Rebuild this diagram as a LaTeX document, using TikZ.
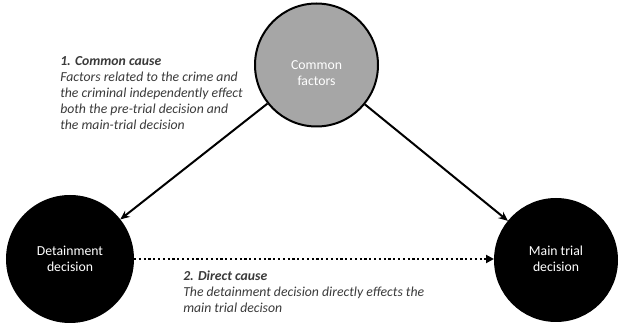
\documentclass[tikz,border=0pt]{standalone}
\usepackage{fontspec}
\setmainfont{Carlito}
\usetikzlibrary{arrows.meta}
\definecolor{txtgray}{HTML}{3A3A3A}
\definecolor{circgray}{HTML}{A6A6A6}
\begin{document}
\begin{tikzpicture}[x=0.75pt,y=-0.75pt,
  bubble/.style={circle,draw=black,line width=1.5pt,minimum size=#1*0.75pt*2,inner sep=0pt},
  bubtext/.style={align=center,inner sep=0pt,text=white,font=\fontsize{10.3}{12}\selectfont},
  causetext/.style={anchor=north west,align=left,inner sep=0pt,text=txtgray,font=\fontsize{10.3}{12}\selectfont\itshape},
  conn/.style={line width=1.5pt,-{Stealth[length=7pt,width=6pt]}}]
\useasboundingbox (0,0) rectangle (619,324);
\node[bubble=61.5,fill=circgray] (cf) at (316.5,65) {};
\node[bubtext] (cft) at (316.5,73) {Common\\factors};
\node[bubble=63,fill=black] (dd) at (70,259) {};
\node[bubtext] (ddt) at (dd.center) {Detainment\\decision};
\node[bubble=61,fill=black] (mt) at (556,260) {};
\node[bubtext] (mtt) at (556,259) {Main trial\\decision};
\draw[conn] (cf) -- (dd);
\draw[conn] (cf) -- (mt);
\draw[line width=1.6pt,dotted,-{Triangle[length=6pt,width=6pt]}] (dd.east) -- (mt.west |- dd.east);
\node[causetext] (t1) at (60,56) {\textbf{1. Common cause}\\Factors related to the crime and\\the criminal independently effect\\both the pre-trial decision and\\the main-trial decision};
\node[causetext] (t2) at (183,271) {\textbf{2. Direct cause}\\The detainment decision directly effects the\\main trial decison};
\end{tikzpicture}
\end{document}
